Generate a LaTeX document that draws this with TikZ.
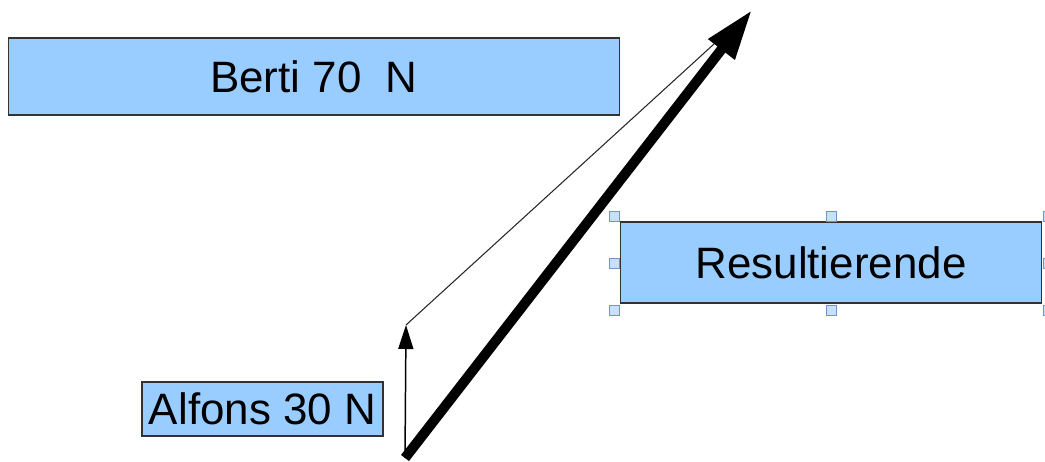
\documentclass[tikz,border=0pt]{standalone}
\usepackage{fontspec}
\setmainfont{Liberation Sans}
\usetikzlibrary{arrows.meta}
\definecolor{boxblue}{HTML}{99CCFF}
\definecolor{handleblue}{HTML}{C8E0F8}
\definecolor{handleedge}{HTML}{6F95C8}

\begin{document}
\begin{tikzpicture}[x=0.02cm,y=-0.02cm,
    force/.style={draw=black!80,fill=boxblue,line width=0.6pt,inner sep=0pt,
        font=\fontsize{25}{30}\selectfont},
    handle/.style={draw=handleedge,fill=handleblue,line width=0.5pt,
        minimum size=0.2cm,inner sep=0pt}]
    \useasboundingbox (0,0) rectangle (1045,462);

    % the three boxes
    \node[force,minimum width=12.24cm,minimum height=1.54cm] (berti) at (314,76.5) {Berti 70\ \ N};
    \node[force,minimum width=8.44cm,minimum height=1.62cm] (result) at (831,262.5) {Resultierende};
    \node[force,minimum width=4.82cm,minimum height=1.08cm] (alfons) at (262.5,409) {Alfons 30 N};

    % selection handles round the result box
    \foreach \x/\y/\n in {614/216/1,831/216/2,1048/216/3,614/263/4,1048/263/5,614/310/6,831/310/7,1048/310/8}
        \node[handle] (h\n) at (\x,\y) {};

    % vectors
    \coordinate (O) at (405,458);
    \coordinate (A) at (406,325);
    \coordinate (B) at (714,44);
    \coordinate (R) at (752,10);
    \draw[-{Triangle[length=0.48cm,width=0.3cm]},line width=0.85pt] (O) -- (A);
    \draw[line width=0.6pt,black!85] (A) -- (B);
    \draw[-{Triangle[length=1cm,width=0.62cm]},line width=0.2cm] (O) -- (R);
\end{tikzpicture}
\end{document}
